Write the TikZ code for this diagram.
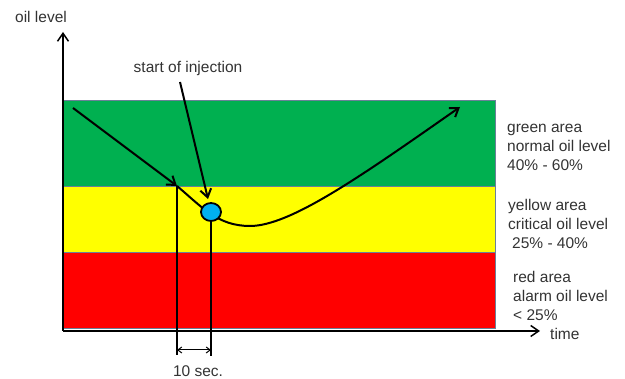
\documentclass[tikz,border=0pt]{standalone}
\usepackage{fontspec}
\setmainfont{Liberation Sans}
\usetikzlibrary{arrows.meta,positioning,shapes.geometric}

\definecolor{areagreen}{HTML}{00B050}
\definecolor{areayellow}{HTML}{FFFF00}
\definecolor{areared}{HTML}{FF0000}
\definecolor{areaframe}{HTML}{6A8098}
\definecolor{dropblue}{HTML}{00B0F0}
\definecolor{labelgray}{HTML}{333333}

\begin{document}
\begin{tikzpicture}[x=1pt,y=-1pt,>={Straight Barb[length=8pt,width=11pt]},
    every node/.style={font=\fontsize{15.5}{19}\selectfont,text=labelgray,inner sep=0pt},
    area/.style={draw=areaframe,line width=0.9pt},
    lab/.style={align=left,anchor=west},
    curve/.style={line width=2pt},
    axis/.style={line width=1.5pt}]
    \useasboundingbox (0,0) rectangle (625,379);

    % colour bands
    \fill[areagreen] (63,100) rectangle (495,186);
    \fill[areayellow] (63,186) rectangle (495,252);
    \fill[areared] (63,252) rectangle (495,328);
    \draw[area] (63,100) rectangle (495,328);
    \draw[area] (63,186) -- (495,186);
    \draw[area] (63,252) -- (495,252);

    % axes
    \coordinate (origin) at (63,331);
    \coordinate (ytip) at (63,32);
    \coordinate (xtip) at (540,331);
    \draw[axis,->] (origin) -- (ytip);
    \draw[axis,->] (origin) -- (xtip);
    \node (ylabel) at (41,17) {oil level};
    \node (xlabel) [right=10pt of xtip,yshift=-3pt] {time};

    % level curve
    \coordinate (start) at (73,108);
    \coordinate (cross) at (177,186);
    \coordinate (lowest) at (250,226);
    \coordinate (finish) at (460,107);
    \draw[curve,->] (start) -- (cross);
    \draw[curve,->] (cross) to[out=-40,in=180] (lowest)
        .. controls +(40,0) and +(-100,70) .. (finish);

    \node[draw=black,line width=1.8pt,fill=dropblue,ellipse,minimum width=20pt,minimum height=18pt]
        (inj) at (211,212) {};
    \node (injlabel) at (188,68) {start of injection};
    \coordinate (injfrom) at (180,82);
    \coordinate (injto) at (208,199);
    \draw[curve,->] (injfrom) -- (injto);

    % delay marker
    \coordinate (crossfoot) at (177,355);
    \coordinate (injfoot) at (211,356);
    \draw[curve] (cross) -- (crossfoot);
    \draw[curve] (inj.south) -- (injfoot);
    \coordinate (ltick) at (177,350);
    \coordinate (rtick) at (211,350);
    \draw[line width=1pt,{Straight Barb[length=4pt,width=6pt]}-{Straight Barb[length=4pt,width=6pt]}] (ltick) -- (rtick);
    \node (delay) at (198,371) {10 sec.};

    % band labels
    \node[lab] (greenlab) at (507,147) {green area\\normal oil level\\40\% - 60\%};
    \node[lab] (yellowlab) at (508,224) {yellow area\\critical oil level\\\hspace{4pt}25\% - 40\%};
    \node[lab] (redlab) at (513,296) {red area\\alarm oil level\\< 25\%};
\end{tikzpicture}
\end{document}
